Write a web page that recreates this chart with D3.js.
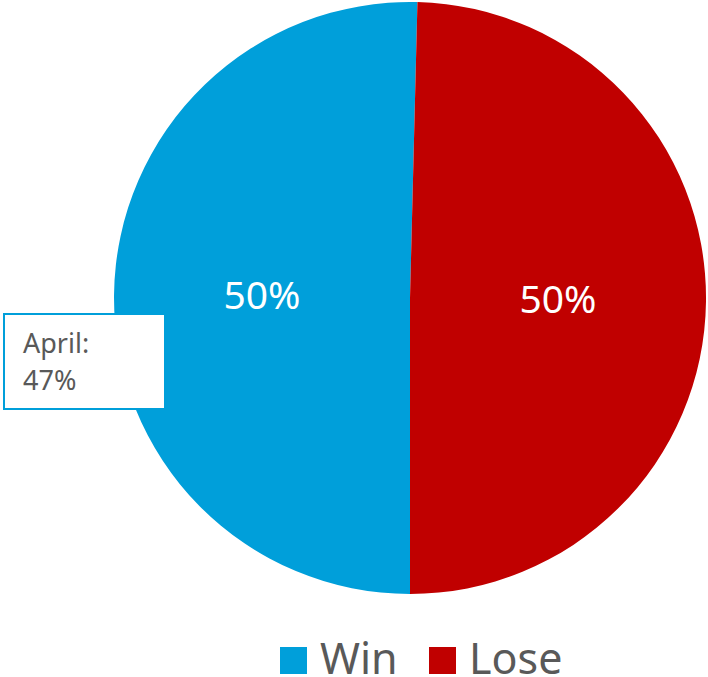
<!DOCTYPE html>
<html>
<head>
<meta charset="utf-8">
<script src="https://cdn.jsdelivr.net/npm/d3@7"></script>
<style>
  body { margin: 0; background: #fff; }
  svg text { font-family: "Noto Sans", "Open Sans", sans-serif; }
</style>
</head>
<body>
<div id="chart"></div>
<script>
const categories = ["Win", "Lose"];
const values = [50.4, 49.6];
const colors = ["#009FDA", "#C00000"];
const calloutLines = ["April:", "47%"];

const width = 708;
const height = 677;
const cx = 410, cy = 298, radius = 296;

const svg = d3.select("#chart")
  .append("svg")
  .attr("width", width)
  .attr("height", height);

const data = categories.map((c, i) => ({ name: c, value: values[i], color: colors[i] }));
const total = d3.sum(values);

// Excel-style: first slice starts at 180deg, clockwise
const pie = d3.pie()
  .sort(null)
  .value(d => d.value)
  .startAngle(Math.PI)
  .endAngle(Math.PI * 3);

const arc = d3.arc().innerRadius(0).outerRadius(radius);
const labelArc = d3.arc().innerRadius(0).outerRadius(radius);

const g = svg.append("g").attr("transform", `translate(${cx},${cy})`);

g.selectAll("path.slice")
  .data(pie(data))
  .enter()
  .append("path")
  .attr("class", "slice")
  .attr("d", arc)
  .attr("fill", d => d.data.color);

// percentage labels
g.selectAll("text.pct")
  .data(pie(data))
  .enter()
  .append("text")
  .attr("class", "pct")
  .attr("transform", d => {
    const [x, y] = labelArc.centroid(d);
    return `translate(${x},${y + 13})`;
  })
  .attr("text-anchor", "middle")
  .attr("fill", "#fff")
  .style("font-size", "39px")
  .text(d => Math.round(d.data.value / total * 100) + "%");

// callout box
const box = svg.append("g").attr("transform", "translate(4,314)");
box.append("rect")
  .attr("width", 161)
  .attr("height", 95)
  .attr("fill", "#fff")
  .attr("stroke", colors[0])
  .attr("stroke-width", 2);

box.selectAll("text")
  .data(calloutLines)
  .enter()
  .append("text")
  .attr("x", 19)
  .attr("y", (d, i) => 39 + i * 37)
  .attr("fill", "#595959")
  .style("font-size", "27px")
  .text(d => d);

// legend
const legend = svg.append("g").attr("transform", "translate(280,647)");
const legendX = [0, 149];

const item = legend.selectAll("g.item")
  .data(data)
  .enter()
  .append("g")
  .attr("class", "item")
  .attr("transform", (d, i) => `translate(${legendX[i]},0)`);

item.append("rect")
  .attr("width", 27)
  .attr("height", 27)
  .attr("fill", d => d.color);

item.append("text")
  .attr("x", 40)
  .attr("y", 27)
  .attr("fill", "#595959")
  .style("font-size", "43px")
  .text(d => d.name);
</script>
</body>
</html>
